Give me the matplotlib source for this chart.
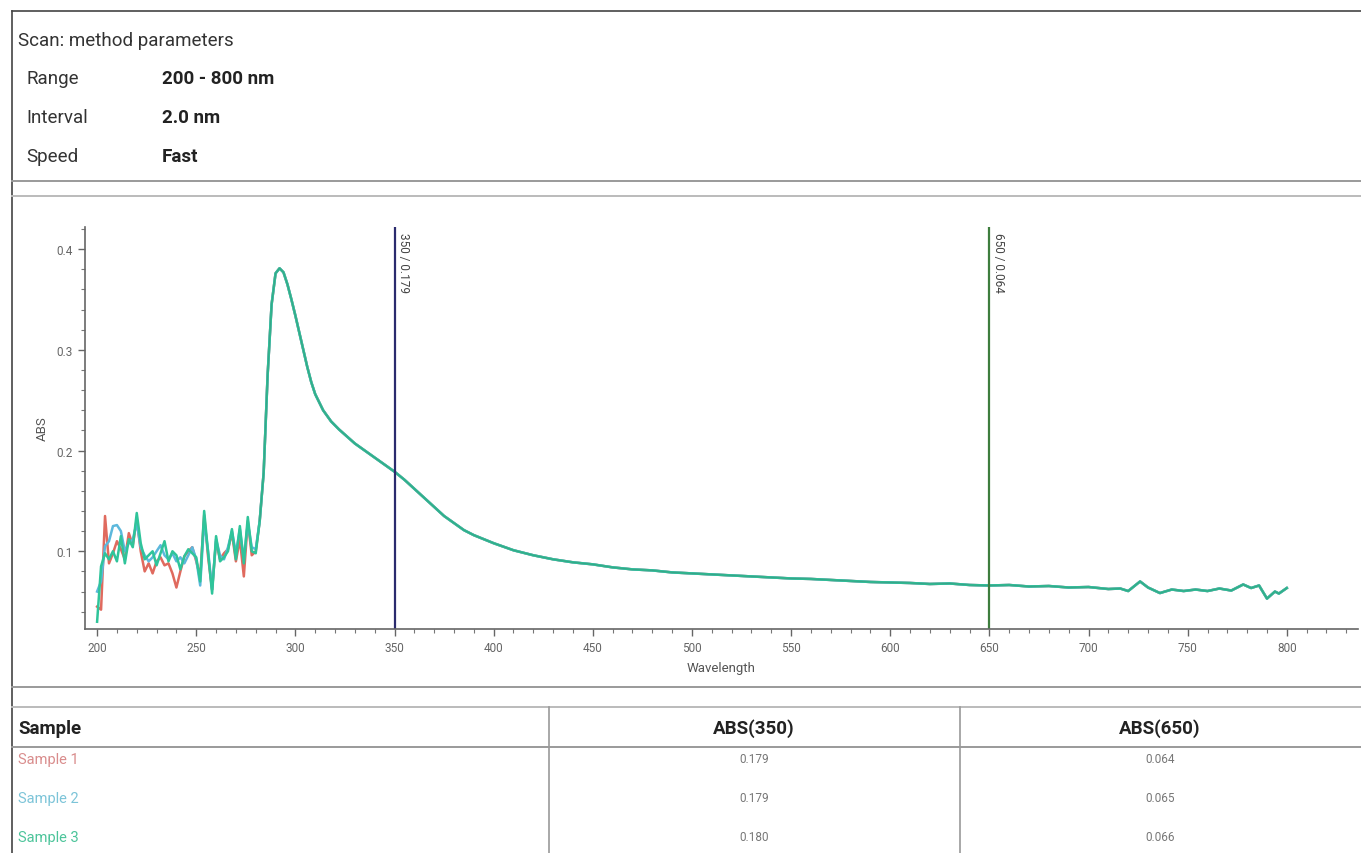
import numpy as np
import matplotlib.pyplot as plt
from matplotlib.lines import Line2D
from matplotlib.ticker import MultipleLocator

plt.rcParams["font.family"] = ["Roboto", "DejaVu Sans"]

# noisy start of the scan, one reading per 2 nm
wl_start = list(range(200, 282, 2))
abs_s1_start = [0.045, 0.042, 0.135, 0.088, 0.098, 0.110, 0.102, 0.092, 0.118, 0.106,
                0.132, 0.100, 0.080, 0.088, 0.078, 0.090, 0.094, 0.086, 0.088, 0.078,
                0.064, 0.080, 0.095, 0.100, 0.104, 0.090, 0.075, 0.136, 0.094, 0.062,
                0.110, 0.092, 0.098, 0.102, 0.118, 0.090, 0.112, 0.075, 0.130, 0.096,
                0.100]
abs_s2_start = [0.060, 0.070, 0.105, 0.110, 0.125, 0.126, 0.120, 0.100, 0.108, 0.112,
                0.128, 0.104, 0.096, 0.090, 0.094, 0.100, 0.106, 0.096, 0.092, 0.098,
                0.090, 0.094, 0.088, 0.096, 0.104, 0.092, 0.066, 0.130, 0.100, 0.062,
                0.112, 0.096, 0.092, 0.104, 0.120, 0.098, 0.122, 0.092, 0.128, 0.104,
                0.102]
abs_s3_start = [0.030, 0.085, 0.098, 0.092, 0.100, 0.090, 0.115, 0.088, 0.112, 0.104,
                0.138, 0.108, 0.092, 0.096, 0.100, 0.086, 0.098, 0.110, 0.090, 0.100,
                0.096, 0.082, 0.095, 0.102, 0.098, 0.094, 0.070, 0.140, 0.098, 0.058,
                0.115, 0.090, 0.094, 0.100, 0.122, 0.092, 0.125, 0.088, 0.134, 0.100,
                0.098]

# rest of the scan, the three samples overlap here
wl_tail = [282, 284, 286, 288, 290, 292, 294, 296, 298, 300, 302, 304, 306, 308, 310,
           314, 318, 322, 326, 330, 335, 340, 345, 350, 355, 360, 365, 370, 375, 380,
           385, 390, 395, 400, 410, 420, 430, 440, 450, 460, 470, 480, 490, 500, 510,
           520, 530, 540, 550, 560, 570, 580, 590, 600, 610, 620, 630, 640,
           650, 660, 670, 680, 690, 700, 710, 716, 720, 726, 730, 736, 742, 748, 754,
           760, 766, 772, 778, 782, 786, 790, 794, 796, 800]
abs_tail = [0.130, 0.178, 0.275, 0.345, 0.376, 0.381, 0.377, 0.365, 0.350, 0.334,
            0.317, 0.300, 0.283, 0.268, 0.256, 0.240, 0.229, 0.221, 0.214, 0.207,
            0.200, 0.193, 0.186, 0.179, 0.171, 0.162, 0.153, 0.144, 0.135, 0.128,
            0.121, 0.116, 0.112, 0.108, 0.101, 0.096, 0.092, 0.089, 0.087, 0.084,
            0.082, 0.081, 0.079, 0.078, 0.077, 0.076, 0.075, 0.074, 0.073,
            0.0725, 0.0715, 0.0705, 0.0695, 0.069, 0.0685, 0.0675, 0.068, 0.0665,
            0.066, 0.0665, 0.065, 0.0655, 0.064, 0.0645, 0.0625, 0.063, 0.0605, 0.070,
            0.064, 0.0585, 0.062, 0.0605, 0.062, 0.0605, 0.063, 0.061, 0.067, 0.0635,
            0.066, 0.053, 0.060, 0.058, 0.0635]

samples = ["Sample 1", "Sample 2", "Sample 3"]
sample_colors = ["#e06a5e", "#5cb8dc", "#2fc49a"]
text_colors = ["#d98c8c", "#7cc4d8", "#4cc49a"]
abs350 = ["0.179", "0.179", "0.180"]
abs650 = ["0.064", "0.065", "0.066"]
markers = [(350, "0.179", "#2b2b6e"), (650, "0.064", "#3d7d3d")]

params = [("Range", "200 - 800 nm"), ("Interval", "2.0 nm"), ("Speed", "Fast")]

W, H = 1361, 854
fig = plt.figure(figsize=(W / 100, H / 100), dpi=100)


def fx(px):
    return px / W


def fy(py):
    return 1 - py / H


def hline(py, x0=12, x1=W, color="#9a9a9a", lw=1.4):
    fig.add_artist(Line2D([fx(x0), fx(x1)], [fy(py), fy(py)], color=color, lw=lw))


def vline(px, y0, y1, color="#9a9a9a", lw=1.2):
    fig.add_artist(Line2D([fx(px), fx(px)], [fy(y0), fy(y1)], color=color, lw=lw))


# frame of the report
hline(12, color="#444444", lw=1.2)
vline(12, 12, H, color="#444444", lw=1.2)
hline(182)
hline(197, color="#bbbbbb")
hline(688)
hline(708, color="#bbbbbb")
hline(748)
vline(549, 708, H)
vline(960, 708, H)

# method parameters
fig.text(fx(18), fy(41), "Scan: method parameters", fontsize=13.5, color="#333333", va="center")
for i, (name, val) in enumerate(params):
    y = 79 + i * 39
    fig.text(fx(26), fy(y), name, fontsize=13.5, color="#333333", va="center")
    fig.text(fx(162), fy(y), val, fontsize=13.5, color="#222222", fontweight="bold", va="center")

# spectrum
ax = fig.add_axes([fx(85), fy(630), fx(1358) - fx(85), fy(228) - fy(630)])
starts = [abs_s1_start, abs_s2_start, abs_s3_start]
for name, col, st in zip(samples, sample_colors, starts):
    x = np.array(wl_start + wl_tail)
    y = np.array(st + abs_tail)
    ax.plot(x, y, color=col, lw=1.8, label=name)
ax.plot(wl_tail, abs_tail, color="#3a9a7e", lw=0.8, alpha=0.7)

for wl, val, col in markers:
    ax.axvline(wl, color=col, lw=1.6)
    ax.text(wl + 1.5, 0.417, f"{wl} / {val}", rotation=270, fontsize=8.5,
            color="#444444", va="top", ha="left")

ax.set_xlim(193.9, 835.9)
ax.set_ylim(0.0228, 0.422)
ax.xaxis.set_major_locator(MultipleLocator(50))
ax.xaxis.set_minor_locator(MultipleLocator(10))
ax.yaxis.set_major_locator(MultipleLocator(0.1))
ax.yaxis.set_minor_locator(MultipleLocator(0.02))
ax.xaxis.set_major_formatter(plt.FuncFormatter(lambda v, p: f"{v:.0f}"))
ax.yaxis.set_major_formatter(plt.FuncFormatter(lambda v, p: f"{v:.1f}"))
ax.tick_params(which="major", length=5, width=1, color="#666666", labelsize=8.5,
               labelcolor="#666666")
ax.tick_params(which="minor", length=3, width=0.8, color="#777777")
for s in ["top", "right"]:
    ax.spines[s].set_visible(False)
for s in ["left", "bottom"]:
    ax.spines[s].set_color("#666666")
    ax.spines[s].set_linewidth(1.2)
ax.set_xlabel("Wavelength", fontsize=9.5, color="#555555", labelpad=5)
ax.set_ylabel("ABS", fontsize=9.5, color="#555555", labelpad=6)
ax.patch.set_alpha(0)

# results table
fig.text(fx(18), fy(729), "Sample", fontsize=13.5, fontweight="bold", color="#222222", va="center")
fig.text(fx(754), fy(729), "ABS(350)", fontsize=13.5, fontweight="bold", color="#222222",
         va="center", ha="center")
fig.text(fx(1160), fy(729), "ABS(650)", fontsize=13.5, fontweight="bold", color="#222222",
         va="center", ha="center")
for i, (name, tc) in enumerate(zip(samples, text_colors)):
    y = 760 + i * 39
    fig.text(fx(18), fy(y), name, fontsize=10.5, color=tc, va="center")
    fig.text(fx(754), fy(y), abs350[i], fontsize=8.5, color="#777777", va="center", ha="center")
    fig.text(fx(1160), fy(y), abs650[i], fontsize=8.5, color="#777777", va="center", ha="center")

fig.savefig("out.png", dpi=100)
